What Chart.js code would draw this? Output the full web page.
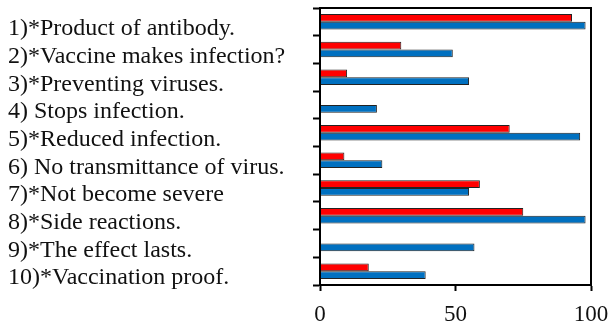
<!DOCTYPE html>
<html>
<head>
<meta charset="utf-8">
<script src="https://cdn.jsdelivr.net/npm/chart.js@4"></script>
<style>
  html, body { margin: 0; padding: 0; background: #fff; }
  #wrap { width: 609px; height: 324px; }
</style>
</head>
<body>
<div id="wrap"><canvas id="c" width="609" height="324"></canvas></div>
<script>
const categories = [
  "1)*Product of antibody.",
  "2)*Vaccine makes infection?",
  "3)*Preventing viruses.",
  "4) Stops infection.",
  "5)*Reduced infection.",
  "6) No transmittance of virus.",
  "7)*Not become severe",
  "8)*Side reactions.",
  "9)*The effect lasts.",
  "10)*Vaccination proof."
];
const redValues  = [93, 30, 10, 0, 70, 9, 59, 75, 0, 18];
const blueValues = [98, 49, 55, 21, 96, 23, 55, 98, 57, 39];
const xTicks = [0, 50, 100];

// Box around the plotting area (top and right sides included)
const frame = {
  id: 'frame',
  afterDraw(chart) {
    const { ctx, chartArea: a } = chart;
    ctx.save();
    ctx.strokeStyle = '#000';
    ctx.lineWidth = 2;
    ctx.strokeRect(a.left, a.top, a.right - a.left, a.bottom - a.top);
    ctx.restore();
  }
};

const serif = "'Liberation Serif', 'Times New Roman', serif";

new Chart(document.getElementById('c'), {
  type: 'bar',
  data: {
    labels: categories,
    datasets: [
      {
        data: redValues,
        backgroundColor: '#FF0000',
        borderColor: '#222',
        borderWidth: 1,
        categoryPercentage: 0.56,
        barPercentage: 1.0
      },
      {
        data: blueValues,
        backgroundColor: '#0070C0',
        borderColor: '#222',
        borderWidth: 1,
        categoryPercentage: 0.56,
        barPercentage: 1.0
      }
    ]
  },
  options: {
    indexAxis: 'y',
    responsive: false,
    animation: false,
    devicePixelRatio: 1,
    layout: { padding: { left: 8, right: 18, top: 8, bottom: 0 } },
    plugins: {
      legend: { display: false },
      tooltip: { enabled: false }
    },
    scales: {
      x: {
        min: 0,
        max: 100,
        afterBuildTicks(scale) {
          scale.ticks = xTicks.map(v => ({ value: v }));
        },
        afterFit(scale) {
          scale.height = 39;
          scale.paddingLeft = 0;
          scale.paddingRight = 0;
        },
        grid: {
          drawOnChartArea: false,
          drawTicks: true,
          tickLength: 6,
          tickWidth: 2,
          tickColor: '#000'
        },
        border: { display: true, color: '#000', width: 2 },
        ticks: {
          color: '#111',
          padding: 10,
          maxRotation: 0,
          font: { family: serif, size: 23 }
        }
      },
      y: {
        afterFit(scale) {
          scale.width = 312;
          scale.paddingTop = 0;
          scale.paddingBottom = 0;
        },
        grid: {
          offset: true,
          drawOnChartArea: false,
          drawTicks: true,
          tickLength: 7,
          tickWidth: 2,
          tickColor: '#000'
        },
        border: { display: true, color: '#000', width: 2 },
        ticks: {
          color: '#111',
          crossAlign: 'far',
          labelOffset: 7,
          autoSkip: false,
          font: { family: serif, size: 24 }
        }
      }
    }
  },
  plugins: [frame]
});
</script>
</body>
</html>
